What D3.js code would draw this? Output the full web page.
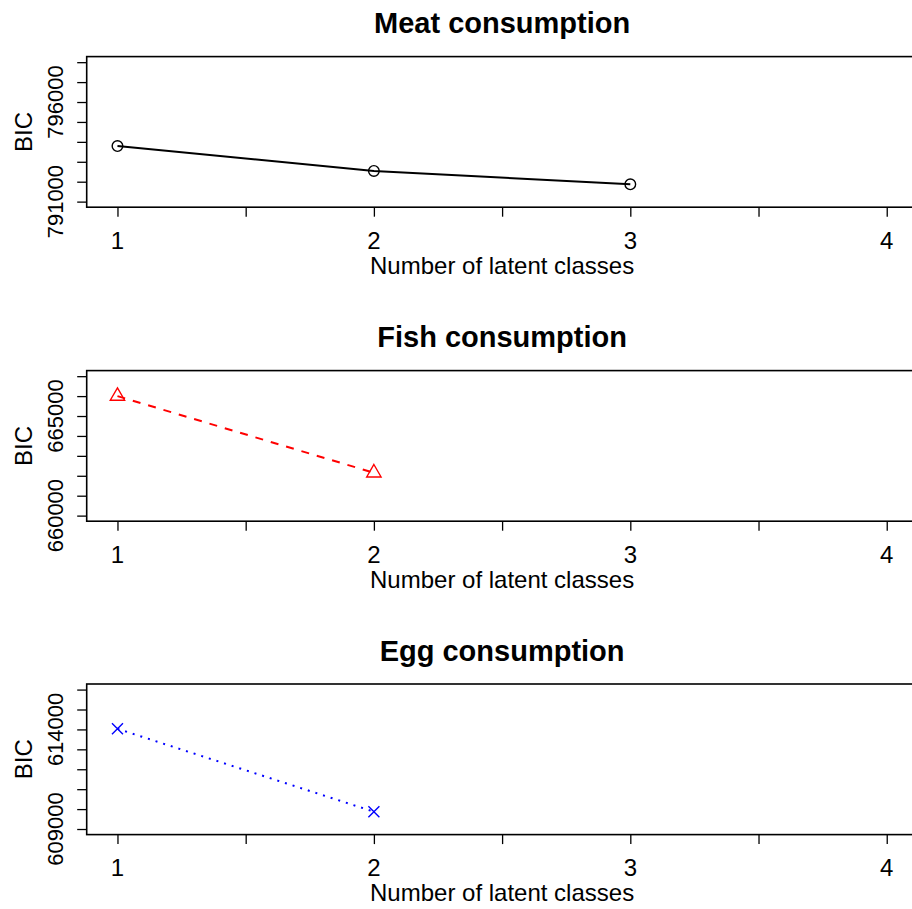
<html>
<head>
<style type="text/css">
  body { margin: 0; background: #fff; }
  text { font-family: "Liberation Sans", Arial, Helvetica, sans-serif; }
</style>
<title>BIC by number of latent classes</title>
<script src="https://cdn.jsdelivr.net/npm/d3@7/dist/d3.min.js"></script>
</head>
<body>
<div id="chart"></div>
<script>

// data
var classes = [1, 2, 3, 4];
var xTicks = [1, 1.5, 2, 2.5, 3, 3.5, 4];
var xLabels = [1, 2, 3, 4];

var panelTitles = ["Meat consumption", "Fish consumption", "Egg consumption"];

var meatClasses = [1, 2, 3];
var meatBIC = [793790, 792540, 791870];
var fishClasses = [1, 2];
var fishBIC = [666000, 662150];
var eggClasses = [1, 2];
var eggBIC = [614030, 609870];

var meatYlim = [791000, 798000];
var fishYlim = [660000, 667000];
var eggYlim = [609000, 616000];

var meatYTicks = [791000, 792000, 793000, 794000, 795000, 796000, 797000, 798000];
var fishYTicks = [660000, 661000, 662000, 663000, 664000, 665000, 666000, 667000];
var eggYTicks = [609000, 610000, 611000, 612000, 613000, 614000, 615000, 616000];

var meatYLabels = [791000, 796000];
var fishYLabels = [660000, 665000];
var eggYLabels = [609000, 614000];

var panels = [
  { title: panelTitles[0], x: meatClasses, y: meatBIC, ylim: meatYlim, ticks: meatYTicks, labels: meatYLabels,
    color: "#000000", dash: null, pch: "circle" },
  { title: panelTitles[1], x: fishClasses, y: fishBIC, ylim: fishYlim, ticks: fishYTicks, labels: fishYLabels,
    color: "#FF0000", dash: "8,8", pch: "triangle" },
  { title: panelTitles[2], x: eggClasses, y: eggBIC, ylim: eggYlim, ticks: eggYTicks, labels: eggYLabels,
    color: "#0000FF", dash: "2,6", pch: "cross" }
];

var W = 912, H = 909;
var left = 86.7, right = 917.5;    // plot region runs past the right edge, like the original
var boxH = 150.6;
var tops = [56.6, 370.6, 684];

var svg = d3.select("#chart").append("svg")
    .attr("width", W)
    .attr("height", H);

// R style 4% extension on both axes
function extend(lim) {
  var d = (lim[1] - lim[0]) * 0.04;
  return [lim[0] - d, lim[1] + d];
}

var x = d3.scaleLinear()
    .domain(extend([classes[0], classes[classes.length - 1]]))
    .range([left, right]);

function drawPanel(p, top) {
  var bottom = top + boxH;
  var y = d3.scaleLinear().domain(extend(p.ylim)).range([bottom, top]);
  var g = svg.append("g");

  // box
  g.append("rect")
    .attr("x", left).attr("y", top)
    .attr("width", right - left).attr("height", boxH)
    .attr("fill", "none").attr("stroke", "#000").attr("stroke-width", 1.6);

  // x axis
  var xa = g.append("g")
    .attr("transform", "translate(0," + bottom + ")")
    .call(d3.axisBottom(x).tickValues(xTicks).tickSize(9.5).tickFormat(""));
  xa.select(".domain").remove();
  xa.selectAll("line").attr("stroke-width", 1.3);

  g.selectAll(".xlab")
    .data(xLabels)
   .enter().append("text")
    .attr("x", function(d) { return x(d); })
    .attr("y", bottom + 41.5)
    .attr("text-anchor", "middle")
    .attr("font-size", 24)
    .text(function(d) { return d; });

  // y axis
  var ya = g.append("g")
    .attr("transform", "translate(" + left + ",0)")
    .call(d3.axisLeft(y).tickValues(p.ticks).tickSize(9.5).tickFormat(""));
  ya.select(".domain").remove();
  ya.selectAll("line").attr("stroke-width", 1.3);

  g.selectAll(".ylab")
    .data(p.labels)
   .enter().append("text")
    .attr("transform", function(d) { return "translate(63.3," + y(d) + ") rotate(-90)"; })
    .attr("text-anchor", "middle")
    .attr("font-size", 22)
    .text(function(d) { return d; });

  // titles
  g.append("text")
    .attr("x", (left + right) / 2)
    .attr("y", top - 23.3)
    .attr("text-anchor", "middle")
    .attr("font-size", 29)
    .attr("font-weight", "bold")
    .text(p.title);

  g.append("text")
    .attr("x", (left + right) / 2)
    .attr("y", bottom + 66.5)
    .attr("text-anchor", "middle")
    .attr("font-size", 24)
    .text("Number of latent classes");

  g.append("text")
    .attr("transform", "translate(31.7," + (top + boxH / 2) + ") rotate(-90)")
    .attr("text-anchor", "middle")
    .attr("font-size", 24)
    .text("BIC");

  // line
  var pts = p.x.map(function(d, i) { return [d, p.y[i]]; });
  var line = d3.line()
      .x(function(d) { return x(d[0]); })
      .y(function(d) { return y(d[1]); });

  g.append("path")
    .datum(pts)
    .attr("d", line)
    .attr("fill", "none")
    .attr("stroke", p.color)
    .attr("stroke-width", 2)
    .attr("stroke-dasharray", p.dash);

  // points
  var sym = g.selectAll(".pt")
      .data(pts)
     .enter().append("g")
      .attr("transform", function(d) { return "translate(" + x(d[0]) + "," + y(d[1]) + ")"; });

  if (p.pch === "circle") {
    sym.append("circle")
      .attr("r", 5.3)
      .attr("fill", "none").attr("stroke", p.color).attr("stroke-width", 1.4);
  } else if (p.pch === "triangle") {
    var r = 8.3;
    sym.append("path")
      .attr("d", "M0," + (-r) + "L" + (r * Math.sqrt(3) / 2) + "," + (r / 2) +
                 "L" + (-r * Math.sqrt(3) / 2) + "," + (r / 2) + "Z")
      .attr("fill", "none").attr("stroke", p.color).attr("stroke-width", 1.4);
  } else {
    var c = 5.5;
    sym.append("path")
      .attr("d", "M" + (-c) + "," + (-c) + "L" + c + "," + c + "M" + (-c) + "," + c + "L" + c + "," + (-c))
      .attr("fill", "none").attr("stroke", p.color).attr("stroke-width", 1.4);
  }
}

panels.forEach(function(p, i) { drawPanel(p, tops[i]); });

</script>
</body>
</html>
